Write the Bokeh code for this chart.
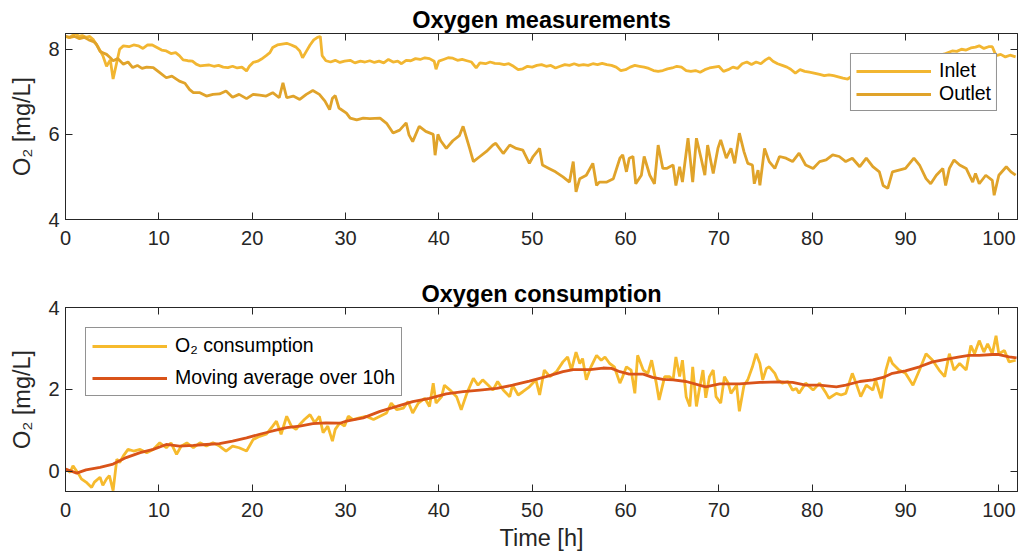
from bokeh.plotting import figure
from bokeh.models import Range1d, FixedTicker, LinearAxis
from bokeh.layouts import column
from bokeh.embed import file_html
from bokeh.resources import INLINE

# ---------------- data ----------------
inlet_t = [0, 0.4, 0.8, 1.1, 1.4, 1.8, 2.2, 2.6, 3.0, 3.5, 4.0, 4.4, 4.8, 5.1, 5.4, 5.8, 6.2, 6.8, 7.3, 7.8,
           8.3, 8.8, 9.3, 9.8, 10.3, 10.8, 11.3, 11.8, 12.2, 12.6, 13.1, 13.6, 14.0, 14.4, 14.9, 15.4, 15.9,
           16.4, 16.9, 17.4, 17.9, 18.4, 18.9, 19.4, 19.7, 20.1, 20.6, 21.0, 21.5, 21.9, 22.2, 22.7, 23.2,
           23.7, 24.2, 24.7, 25.1, 25.4, 25.8, 26.2, 26.6, 27.0, 27.3, 27.5, 27.9, 28.4, 28.9, 29.4, 29.9,
           30.5, 31.0, 31.6, 32.1, 32.6, 33.1, 33.6, 34.1, 34.6, 35.1, 35.6, 36.0, 36.5, 37.0, 37.5, 38.0,
           38.5, 39.0, 39.5, 39.7, 40.0, 40.5, 41.0, 41.5, 42.0, 42.5, 43.0, 43.5, 44.0, 44.4, 45.0, 45.5,
           46.0, 46.5, 47.0, 47.5, 48.0, 48.5, 49.0, 49.5, 50.0, 50.5, 51.0, 51.5, 52.0, 52.5, 53.0, 53.5,
           54.0, 54.5, 55.0, 55.5, 56.0, 56.5, 57.0, 57.5, 58.0, 58.5, 59.0, 59.5, 60.0, 60.5, 61.0, 61.5,
           62.0, 62.5, 63.0, 63.5, 64.0, 64.5, 65.0, 65.5, 66.0, 66.5, 67.0, 67.5, 68.0, 68.5, 69.0, 69.5,
           70.0, 70.5, 71.0, 71.5, 72.0, 72.5, 73.0, 73.5, 74.0, 74.5, 75.0, 75.4, 75.8, 76.3, 76.8, 77.3,
           77.7, 78.2, 78.7, 79.2, 79.7, 80.2, 80.8, 81.3, 81.8, 82.3, 82.8, 83.3, 83.8, 84.5, 85.5, 86.5,
           87.5, 88.5, 89.5, 90.5, 91.5, 92.5, 93.5, 94.3, 95.0, 95.5, 96.0, 96.5, 97.0, 97.5, 97.9, 98.4,
           98.9, 99.3, 99.7, 100.2, 100.7, 101.2, 101.8]
inlet_v = [8.30, 8.27, 8.33, 8.38, 8.30, 8.32, 8.28, 8.30, 8.22, 8.05, 7.85, 7.60, 7.75, 7.30, 7.60, 8.00, 8.08,
           8.06, 8.10, 8.08, 8.02, 8.10, 8.10, 8.04, 7.98, 7.96, 7.90, 7.92, 7.85, 7.75, 7.73, 7.72, 7.65,
           7.61, 7.62, 7.63, 7.60, 7.62, 7.58, 7.57, 7.60, 7.56, 7.58, 7.49, 7.60, 7.69, 7.72, 7.77, 7.85,
           7.92, 8.04, 8.10, 8.12, 8.14, 8.10, 8.05, 7.96, 7.80, 7.95, 8.10, 8.22, 8.28, 8.30, 7.85, 7.73,
           7.70, 7.74, 7.69, 7.72, 7.74, 7.68, 7.72, 7.70, 7.73, 7.69, 7.72, 7.68, 7.76, 7.70, 7.72, 7.66,
           7.74, 7.73, 7.78, 7.76, 7.80, 7.78, 7.72, 7.53, 7.72, 7.76, 7.80, 7.79, 7.74, 7.76, 7.73, 7.70,
           7.56, 7.68, 7.66, 7.70, 7.67, 7.66, 7.64, 7.66, 7.60, 7.52, 7.54, 7.60, 7.58, 7.62, 7.64, 7.60,
           7.62, 7.56, 7.60, 7.64, 7.62, 7.66, 7.62, 7.64, 7.62, 7.66, 7.64, 7.67, 7.64, 7.62, 7.58, 7.50,
           7.52, 7.58, 7.62, 7.60, 7.58, 7.55, 7.50, 7.48, 7.50, 7.54, 7.56, 7.60, 7.58, 7.50, 7.48, 7.50,
           7.46, 7.52, 7.56, 7.58, 7.60, 7.48, 7.52, 7.58, 7.55, 7.66, 7.70, 7.64, 7.70, 7.66, 7.75, 7.80,
           7.72, 7.66, 7.62, 7.58, 7.53, 7.44, 7.52, 7.48, 7.46, 7.44, 7.41, 7.38, 7.40, 7.38, 7.35, 7.32,
           7.30, 7.40, 7.45, 7.50, 7.55, 7.58, 7.62, 7.65, 7.72, 7.78, 7.85, 7.90, 7.96, 7.95, 8.00, 7.98,
           8.03, 8.05, 8.08, 8.02, 8.06, 8.06, 7.85, 7.88, 7.82, 7.86, 7.82]

outlet_t = [0, 0.5, 1.0, 1.5, 2.0, 2.5, 3.0, 3.3, 3.7, 4.0, 4.4, 4.8, 5.1, 5.6, 6.2, 6.7, 7.2, 7.7, 8.2, 8.7,
            9.4, 10.1, 10.8, 11.4, 12.2, 12.8, 13.3, 13.7, 14.4, 15.1, 15.8, 16.5, 17.2, 17.9, 18.6, 19.4,
            20.1, 20.8, 21.5, 22.2, 22.9, 23.3, 23.7, 24.4, 25.1, 25.8, 26.5, 27.2, 27.8, 28.3, 28.6, 28.9,
            29.3, 30.1, 30.5, 31.2, 31.9, 32.6, 33.7, 34.4, 35.1, 35.8, 36.5, 36.8, 37.2, 37.9, 38.6, 39.4,
            39.6, 39.9, 40.2, 40.8, 41.5, 42.2, 42.6, 43.3, 43.7, 44.4, 45.1, 45.8, 46.1, 46.9, 47.6, 48.3,
            49.0, 49.7, 50.1, 50.8, 51.1, 51.8, 52.5, 53.3, 54.0, 54.4, 54.7, 55.1, 55.8, 56.5, 56.9, 57.2,
            58.0, 58.7, 59.4, 59.7, 60.1, 60.4, 60.8, 61.1, 61.7, 62.0, 62.6, 63.1, 63.5, 64.0, 64.4, 65.1,
            65.4, 65.8, 66.1, 66.7, 67.2, 67.6, 68.1, 68.5, 68.8, 69.4, 69.9, 70.2, 70.8, 71.3, 71.7, 72.2,
            72.7, 73.1, 73.6, 73.8, 74.2, 74.4, 74.9, 75.4, 76.0, 76.5, 77.2, 77.9, 78.6, 79.3, 80.1, 80.8,
            81.5, 82.2, 82.9, 83.6, 84.3, 85.1, 85.8, 86.5, 87.2, 87.6, 88.1, 88.6, 89.3, 90.0, 90.9, 91.5,
            92.2, 92.7, 93.3, 94.0, 94.3, 94.7, 95.2, 95.8, 96.5, 97.2, 97.5, 97.9, 98.6, 99.3, 99.5, 100.0,
            100.8, 101.3, 101.8]
outlet_v = [8.30, 8.28, 8.30, 8.25, 8.28, 8.22, 8.18, 8.12, 7.95, 7.92, 7.88, 7.80, 7.73, 7.78, 7.65, 7.70,
            7.57, 7.62, 7.55, 7.58, 7.57, 7.45, 7.33, 7.37, 7.25, 7.20, 7.05, 6.98, 6.98, 6.90, 6.94, 6.95,
            7.02, 6.87, 6.94, 6.84, 6.94, 6.92, 6.90, 6.98, 6.86, 7.21, 6.86, 6.90, 6.82, 6.94, 7.03, 6.94,
            6.78, 6.58, 6.85, 6.91, 6.62, 6.50, 6.38, 6.34, 6.38, 6.37, 6.38, 6.26, 6.03, 6.10, 6.27, 5.99,
            5.83, 6.19, 6.07, 6.00, 5.51, 6.00, 5.85, 5.67, 5.85, 5.97, 6.19, 5.67, 5.36, 5.48, 5.60, 5.75,
            5.79, 5.55, 5.75, 5.67, 5.63, 5.32, 5.48, 5.67, 5.28, 5.20, 5.12, 5.00, 4.88, 5.36, 4.65, 4.96,
            5.04, 5.32, 4.80, 4.88, 4.88, 4.96, 5.44, 5.52, 5.12, 5.44, 5.48, 4.84, 5.04, 5.48, 5.04, 4.84,
            5.75, 5.20, 5.20, 5.28, 4.80, 5.24, 4.88, 5.91, 4.88, 5.91, 5.44, 5.04, 5.75, 5.08, 5.67, 5.87,
            5.44, 5.67, 5.32, 6.03, 5.59, 5.32, 5.28, 4.84, 5.16, 4.80, 5.67, 5.36, 5.20, 5.48, 5.44, 5.36,
            5.56, 5.28, 5.20, 5.36, 5.40, 5.52, 5.48, 5.36, 5.44, 5.24, 5.44, 5.24, 5.12, 4.80, 4.73, 5.12,
            5.16, 5.20, 5.44, 5.28, 4.96, 4.84, 5.04, 5.20, 4.80, 5.20, 5.40, 5.28, 5.20, 4.88, 5.08, 4.84,
            5.04, 4.92, 4.57, 5.04, 5.24, 5.12, 5.04]

cons_t = [0, 0.5, 0.8, 1.4, 1.7, 2.2, 2.8, 3.1, 3.7, 4.0, 4.4, 4.7, 5.1, 5.5, 5.8, 6.2, 6.7, 7.3, 8.0, 8.7,
          9.4, 10.1, 10.8, 11.3, 11.9, 12.4, 13.0, 13.7, 14.4, 15.1, 15.8, 16.5, 17.2, 17.9, 18.6, 19.4,
          20.1, 20.8, 21.5, 22.2, 22.6, 23.1, 23.7, 24.2, 24.7, 25.1, 25.6, 26.2, 26.7, 27.2, 27.6, 28.1,
          28.6, 28.9, 29.4, 29.9, 30.3, 30.8, 31.5, 32.2, 33.0, 33.7, 34.4, 34.9, 35.5, 36.2, 36.7, 37.2,
          37.8, 38.5, 39.0, 39.4, 39.7, 40.3, 40.6, 41.2, 41.9, 42.4, 43.0, 43.7, 44.2, 44.7, 45.3, 45.8,
          46.3, 46.9, 47.6, 47.9, 48.5, 49.0, 49.7, 50.4, 50.8, 51.3, 51.9, 52.6, 53.3, 53.8, 54.2, 54.7,
          55.1, 55.4, 55.8, 56.3, 56.9, 57.4, 57.8, 58.3, 58.8, 59.4, 59.7, 60.1, 60.6, 61.0, 61.3, 61.9,
          62.4, 62.8, 63.3, 63.6, 64.2, 64.7, 65.1, 65.4, 65.8, 66.1, 66.5, 66.9, 67.2, 67.6, 67.9, 68.3,
          68.6, 69.0, 69.4, 69.7, 70.2, 70.6, 71.0, 71.3, 71.9, 72.2, 72.7, 73.1, 73.6, 74.0, 74.4, 74.7,
          75.1, 75.4, 76.0, 76.3, 76.8, 77.4, 77.9, 78.3, 78.6, 79.3, 80.1, 80.8, 81.5, 81.8, 82.6, 83.1,
          83.6, 84.3, 84.7, 85.2, 85.8, 86.5, 86.8, 87.4, 87.9, 88.3, 88.6, 89.3, 90.0, 90.8, 91.5, 92.2,
          92.9, 93.6, 94.2, 94.7, 95.2, 95.8, 96.5, 97.0, 97.4, 97.9, 98.4, 98.8, 99.3, 99.7, 100.0, 100.6,
          101.1, 101.8]
cons_v = [0.05, -0.03, 0.13, -0.07, -0.19, -0.27, -0.40, -0.27, -0.15, -0.35, -0.19, -0.11, -0.48, 0.29,
          0.21, 0.37, 0.53, 0.49, 0.53, 0.45, 0.53, 0.69, 0.57, 0.69, 0.41, 0.61, 0.69, 0.57, 0.69, 0.61,
          0.69, 0.61, 0.49, 0.61, 0.57, 0.49, 0.77, 0.85, 0.90, 1.10, 1.22, 0.90, 1.34, 1.10, 1.02, 1.14,
          1.26, 1.38, 1.18, 1.34, 0.94, 1.10, 0.73, 1.02, 1.18, 1.10, 1.34, 1.26, 1.30, 1.34, 1.26, 1.34,
          1.42, 1.66, 1.50, 1.54, 1.70, 1.42, 1.66, 1.78, 1.58, 2.15, 1.66, 1.82, 2.10, 1.98, 1.82, 1.50,
          1.90, 2.27, 2.10, 2.23, 2.10, 1.98, 2.19, 1.98, 1.82, 2.10, 1.86, 1.94, 2.06, 2.23, 1.86, 2.47,
          2.31, 2.43, 2.67, 2.79, 2.47, 2.91, 2.63, 2.75, 2.23, 2.55, 2.83, 2.71, 2.79, 2.63, 2.55, 2.15,
          2.31, 2.55, 2.47, 1.90, 2.83, 2.47, 2.39, 2.71, 2.15, 1.74, 2.31, 2.31, 2.23, 2.79, 2.31, 2.71,
          1.82, 1.58, 2.55, 1.58, 1.98, 2.47, 1.79, 2.31, 2.47, 1.82, 1.66, 2.31, 2.15, 1.90, 2.10, 1.46,
          2.10, 2.23, 2.55, 2.87, 2.63, 2.23, 2.51, 2.55, 2.39, 2.23, 2.15, 2.19, 1.98, 2.02, 1.90, 2.15,
          1.98, 2.15, 1.90, 1.78, 1.90, 1.86, 1.90, 2.39, 2.15, 1.82, 2.10, 1.98, 2.23, 1.78, 2.47, 2.79,
          2.63, 2.47, 2.39, 2.10, 2.47, 2.87, 2.71, 2.47, 2.31, 2.87, 2.47, 2.63, 2.47, 3.07, 2.87, 3.19,
          2.91, 3.11, 2.87, 3.31, 2.87, 2.95, 2.67, 2.71]

mavg_t = [0, 1.2, 2.2, 3.7, 5.1, 6.5, 8.0, 9.4, 10.8, 12.2, 13.7, 15.1, 16.5, 17.9, 19.4, 20.8, 22.2, 23.7,
          25.1, 26.5, 27.9, 29.4, 30.1, 31.9, 33.7, 35.5, 37.2, 39.0, 40.8, 42.6, 44.4, 46.2, 47.9, 49.7,
          51.5, 53.3, 54.4, 56.2, 57.6, 58.5, 59.4, 60.4, 61.9, 62.9, 64.0, 65.1, 66.5, 67.9, 68.6, 70.1,
          72.2, 74.4, 76.5, 77.9, 79.3, 80.8, 82.6, 83.6, 85.1, 86.5, 87.6, 88.6, 90.0, 91.5, 92.9, 94.3,
          95.8, 96.8, 97.9, 99.3, 100.0, 101.1, 101.9]
mavg_v = [0.05, -0.05, 0.03, 0.09, 0.17, 0.33, 0.45, 0.53, 0.65, 0.61, 0.63, 0.65, 0.67, 0.73, 0.81, 0.90,
          0.98, 1.06, 1.10, 1.16, 1.18, 1.17, 1.22, 1.30, 1.46, 1.58, 1.70, 1.78, 1.89, 1.94, 1.98, 2.02,
          2.10, 2.20, 2.31, 2.43, 2.48, 2.48, 2.52, 2.51, 2.43, 2.37, 2.37, 2.29, 2.24, 2.23, 2.19, 2.10,
          2.06, 2.13, 2.13, 2.17, 2.18, 2.17, 2.10, 2.10, 2.06, 2.10, 2.19, 2.23, 2.29, 2.39, 2.45, 2.55,
          2.67, 2.73, 2.79, 2.83, 2.83, 2.85, 2.85, 2.79, 2.77]

x_ticks = [0, 10, 20, 30, 40, 50, 60, 70, 80, 90, 100]
y_ticks_top = [4, 6, 8]
y_ticks_bottom = [0, 2, 4]

# ---------------- styling ----------------
FONT = "Liberation Sans"
AX = "#262626"
C_INLET = "#F2B631"
C_OUTLET = "#E0A32A"
C_CONS = "#F6BA2D"
C_MAVG = "#D95319"


def style_axis(ax, standoff):
    ax.major_tick_in = 7
    ax.major_tick_out = 0
    ax.minor_tick_line_color = None
    ax.axis_line_color = AX
    ax.major_tick_line_color = AX
    ax.major_label_text_font = FONT
    ax.major_label_text_font_size = "20px"
    ax.major_label_text_color = AX
    ax.major_label_standoff = standoff
    ax.axis_label_text_font = FONT
    ax.axis_label_text_font_size = "23.5px"
    ax.axis_label_text_font_style = "normal"
    ax.axis_label_text_color = AX


def mirror_axis(ticks):
    return LinearAxis(ticker=FixedTicker(ticks=ticks),
                      major_label_overrides={t: "" for t in ticks},
                      major_label_text_font_size="1px", major_label_standoff=0,
                      major_tick_in=7, major_tick_out=0, minor_tick_line_color=None,
                      axis_line_color=AX, major_tick_line_color=AX)


def make_fig(title, height, yr, yticks, border_top, border_bottom, xlabel=None):
    p = figure(width=1018, height=height, x_range=Range1d(0, 102), y_range=Range1d(*yr),
               output_backend="svg", toolbar_location=None, title=title,
               min_border_left=65, min_border_right=1, min_border_top=border_top,
               min_border_bottom=border_bottom)
    p.xgrid.visible = False
    p.ygrid.visible = False
    p.outline_line_color = AX
    p.outline_line_alpha = 1
    p.title.text_font = FONT
    p.title.text_font_size = "23.5px"
    p.title.text_font_style = "bold"
    p.title.text_color = "#000000"
    p.title.align = "center"
    p.title.standoff = 2
    xax = p.below[0]
    yax = p.left[0]
    xax.ticker = FixedTicker(ticks=x_ticks)
    yax.ticker = FixedTicker(ticks=yticks)
    style_axis(xax, 11)
    style_axis(yax, 6)
    yax.axis_label = "O\u2082 [mg/L]"
    yax.axis_label_standoff = 10
    if xlabel:
        xax.axis_label = xlabel
        xax.axis_label_standoff = 5
    p.add_layout(mirror_axis(x_ticks), "above")
    p.add_layout(mirror_axis(yticks), "right")
    return p


def style_legend(lg, spacing, padding):
    lg.label_text_font = FONT
    lg.label_text_font_size = "19.5px"
    lg.label_text_color = "#000000"
    lg.glyph_width = 75
    lg.glyph_height = 20
    lg.label_height = 20
    lg.label_standoff = 8
    lg.padding = padding
    lg.spacing = spacing
    lg.margin = 20
    lg.border_line_color = AX
    lg.border_line_width = 1
    lg.background_fill_color = "white"
    lg.background_fill_alpha = 1


p1 = make_fig("Oxygen measurements", 270, (4, 8.37), y_ticks_top, 33, 51)
p1.line(inlet_t, inlet_v, line_color=C_INLET, line_width=2.8, legend_label="Inlet")
p1.line(outlet_t, outlet_v, line_color=C_OUTLET, line_width=2.8, legend_label="Outlet")
p1.legend.location = "top_right"
style_legend(p1.legend[0], 0, 5)

p2 = make_fig("Oxygen consumption", 283, (-0.5, 4), y_ticks_bottom, 37, 61, xlabel="Time [h]")
p2.line(cons_t, cons_v, line_color=C_CONS, line_width=2.8, legend_label="O\u2082 consumption")
p2.line(mavg_t, mavg_v, line_color=C_MAVG, line_width=2.8, legend_label="Moving average over 10h")
p2.legend.location = "top_left"
style_legend(p2.legend[0], 9, 6)

layout = column(p1, p2, spacing=0)
open("out.html", "w").write(file_html(layout, INLINE, title="Oxygen"))
